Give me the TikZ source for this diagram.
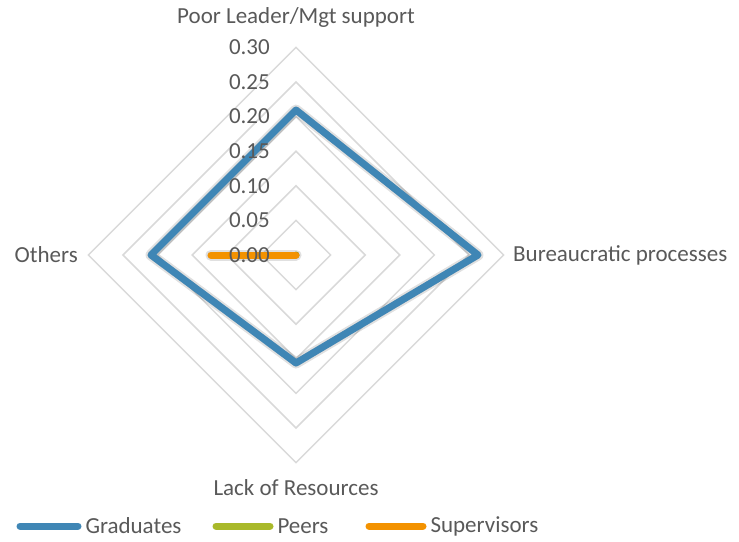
\documentclass[tikz,border=0pt]{standalone}
\usepackage{fontspec}
\setmainfont{Carlito}
\definecolor{gradblue}{HTML}{3F86B5}
\definecolor{peergreen}{HTML}{A9B92A}
\definecolor{supvorange}{HTML}{F39200}
\definecolor{gridgray}{HTML}{D9D9D9}
\definecolor{txtgray}{HTML}{595959}

\begin{document}
\begin{tikzpicture}[x=1pt,y=-1pt]
    \tikzstyle{ring}=[draw=gridgray, line width=1.5pt]
    \tikzstyle{lbl}=[text=txtgray, font=\fontsize{23}{27}\selectfont, inner sep=0pt]
    \tikzstyle{series}=[line width=7pt, line join=round, line cap=round]
    \tikzstyle{shade}=[series, draw=black, opacity=0.12]
    \useasboundingbox (0,0) rectangle (739,541);
    % centre of the radar, 0.01 = 6.92
    \coordinate (c) at (296,255);
    \foreach \r in {1,...,6}
        \draw[ring] (296,{255-34.6*\r}) -- ({296+34.6*\r},255) -- (296,{255+34.6*\r})
            -- ({296-34.6*\r},255) -- cycle;
    % Graduates
    \coordinate (gtop) at (296,110);
    \coordinate (gright) at (478,255);
    \coordinate (gbot) at (296,363);
    \coordinate (gleft) at (151,255);
    \begin{scope}[shift={(2,4)}]
        \draw[shade, line width=11pt] (gtop) -- (gright) -- (gbot) -- (gleft) -- cycle;
        \draw[shade] (gtop) -- (gright) -- (gbot) -- (gleft) -- cycle;
    \end{scope}
    \draw[series, draw=gradblue] (gtop) -- (gright) -- (gbot) -- (gleft) -- cycle;
    % Peers
    \draw[series, draw=peergreen] (c) -- (c);
    % Supervisors
    \coordinate (sleft) at (211,255);
    \begin{scope}[shift={(2,4)}]
        \draw[shade, line width=11pt] (c) -- (sleft);
        \draw[shade] (c) -- (sleft);
    \end{scope}
    \draw[series, draw=supvorange] (c) -- (sleft);
    % axis values
    \foreach \r/\v in {0/0.00,1/0.05,2/0.10,3/0.15,4/0.20,5/0.25,6/0.30}
        \node[lbl, anchor=east] (val\r) at (270,{255-34.6*\r}) {\v};
    % categories
    \node[lbl] (poor) at (296,17) {Poor Leader/Mgt support};
    \node[lbl, anchor=west] (bureau) at (513,255) {Bureaucratic processes};
    \node[lbl] (lack) at (296,488) {Lack of Resources};
    \node[lbl, anchor=east] (others) at (78,255) {Others};
    % legend
    \draw[series, draw=gradblue] (20,526) -- (78,526) node[lbl, anchor=west, xshift=4pt] (leggrad) {Graduates};
    \draw[series, draw=peergreen] (216,526) -- (270,526) node[lbl, anchor=west, xshift=4pt] (legpeer) {Peers};
    \draw[series, draw=supvorange] (369,526) -- (423,526) node[lbl, anchor=west, xshift=4pt] (legsupv) {Supervisors};
\end{tikzpicture}
\end{document}
